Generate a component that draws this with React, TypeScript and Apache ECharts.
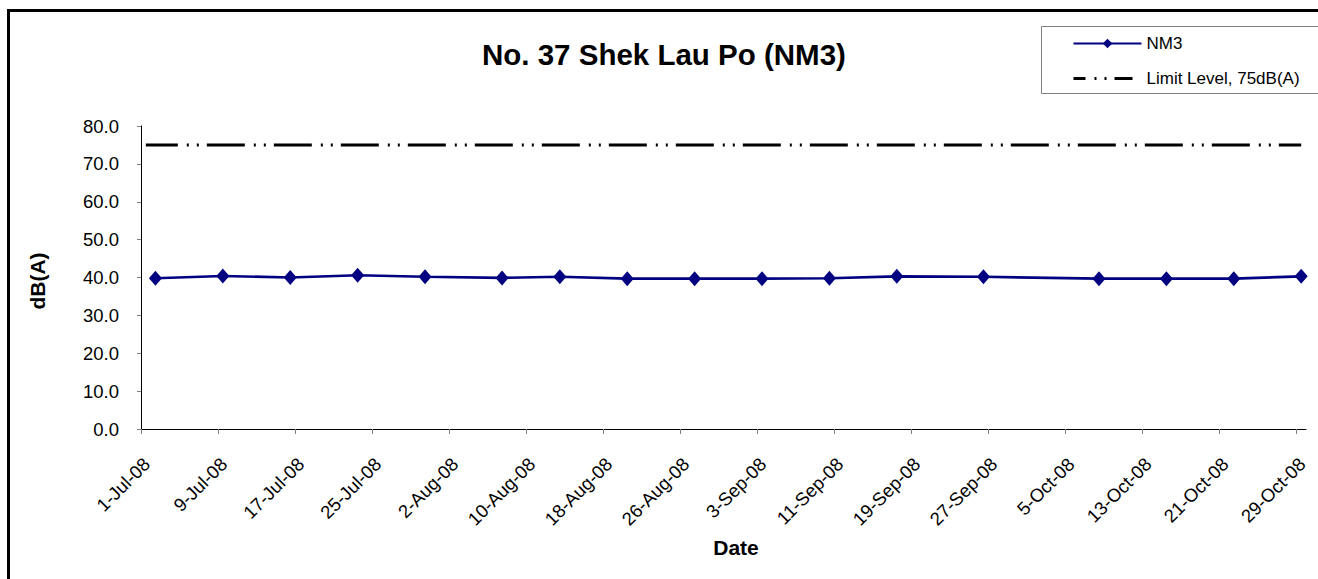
import React, { useEffect, useRef } from "react";
import * as echarts from "echarts";

const DAY = 86400000;
const FONT = 'Arial, "Liberation Sans", sans-serif';

const chartTitle = "No. 37 Shek Lau Po (NM3)";
const yAxisTitle = "dB(A)";
const xAxisTitle = "Date";
const seriesNames = ["NM3", "Limit Level, 75dB(A)"];

const measureDates = [
  "2008-07-02", "2008-07-09", "2008-07-16", "2008-07-23", "2008-07-30",
  "2008-08-07", "2008-08-13", "2008-08-20", "2008-08-27", "2008-09-03",
  "2008-09-10", "2008-09-17", "2008-09-26", "2008-10-08", "2008-10-15",
  "2008-10-22", "2008-10-29",
];
const nm3Values = [
  39.8, 40.4, 40.0, 40.6, 40.2, 39.9, 40.2, 39.7, 39.7, 39.7, 39.8, 40.3,
  40.2, 39.7, 39.7, 39.7, 40.3,
];
const limitDates = ["2008-07-01", "2008-10-29"];
const limitValues = [75, 75];

const xTickLabels = [
  "1-Jul-08", "9-Jul-08", "17-Jul-08", "25-Jul-08", "2-Aug-08", "10-Aug-08",
  "18-Aug-08", "26-Aug-08", "3-Sep-08", "11-Sep-08", "19-Sep-08", "27-Sep-08",
  "5-Oct-08", "13-Oct-08", "21-Oct-08", "29-Oct-08",
];
const axisStartDate = "2008-07-01";
const axisEndDate = "2008-10-30";
const yMin = 0;
const yMax = 80;
const yStep = 10;

const MONTHS = ["Jan", "Feb", "Mar", "Apr", "May", "Jun", "Jul", "Aug", "Sep", "Oct", "Nov", "Dec"];

function isoToTs(s: string): number {
  const [y, m, d] = s.split("-").map(Number);
  return Date.UTC(y, m - 1, d);
}
function labelToTs(s: string): number {
  const [d, mon, yy] = s.split("-");
  return Date.UTC(2000 + Number(yy), MONTHS.indexOf(mon), Number(d));
}

export default function App() {
  const ref = useRef<HTMLDivElement>(null);

  useEffect(() => {
    if (!ref.current) return;
    const chart = echarts.init(ref.current, undefined, { renderer: "svg" });

    const xMin = isoToTs(axisStartDate);
    const xMax = isoToTs(axisEndDate);
    const tickTs = xTickLabels.map(labelToTs);
    const labelShift = DAY * 0.6;
    const labelTs = tickTs.map((t) => t + labelShift);

    const nm3Data = measureDates.map((d, i) => [isoToTs(d) + DAY / 2, nm3Values[i]]);
    const limitData = limitDates.map((d, i) => [isoToTs(d) + DAY / 2, limitValues[i]]);

    const option: any = {
      animation: false,
      backgroundColor: "#ffffff",
      textStyle: { fontFamily: FONT },
      title: {
        text: chartTitle,
        left: 482,
        top: 39,
        padding: 0,
        textStyle: { fontFamily: FONT, fontSize: 29.5, fontWeight: "bold", color: "#000" },
      },
      legend: {
        orient: "vertical",
        left: 1072,
        top: 35,
        padding: 0,
        itemWidth: 68,
        itemHeight: 12,
        itemGap: 18,
        textStyle: { fontFamily: FONT, fontSize: 17, color: "#000" },
        data: [
          { name: seriesNames[0] },
          {
            name: seriesNames[1],
            lineStyle: { type: [18, 9, 2, 8, 2, 8], width: 3, color: "#000" },
            itemStyle: { color: "rgba(0,0,0,0)", borderWidth: 0, opacity: 0 },
          },
        ],
      },
      grid: { left: 141, right: 12, top: 126, bottom: 150, containLabel: false },
      xAxis: {
        type: "value",
        min: xMin,
        max: xMax,
        axisLine: { lineStyle: { color: "#000", width: 1 } },
        axisTick: {
          show: true,
          length: 5,
          lineStyle: { color: "#808080" },
          customValues: tickTs,
        },
        axisLabel: {
          customValues: labelTs,
          rotate: 45,
          margin: 32,
          fontFamily: FONT,
          fontSize: 18.5,
          color: "#000",
          formatter: (v: number) => {
            const idx = Math.round((v - labelShift - xMin) / (8 * DAY));
            return xTickLabels[idx] ?? "";
          },
        },
        splitLine: { show: false },
      },
      yAxis: {
        type: "value",
        min: yMin,
        max: yMax,
        interval: yStep,
        axisLine: { show: true, lineStyle: { color: "#000", width: 1 } },
        axisTick: { show: true, length: 4, lineStyle: { color: "#808080" } },
        axisLabel: {
          margin: 22,
          fontFamily: FONT,
          fontSize: 18.5,
          color: "#000",
          formatter: (v: number) => v.toFixed(1),
        },
        splitLine: { show: false },
      },
      graphic: [
        {
          type: "rect",
          shape: { x: 8.5, y: 10.5, width: 1400, height: 700 },
          style: { fill: "none", stroke: "#000", lineWidth: 3 },
          silent: true,
          z: 0,
        },
        {
          type: "rect",
          shape: { x: 1041.5, y: 26.5, width: 320, height: 67 },
          style: { fill: "none", stroke: "#7f7f7f", lineWidth: 1 },
          silent: true,
          z: 0,
        },
        {
          type: "text",
          x: 37,
          y: 281,
          rotation: Math.PI / 2,
          style: {
            text: yAxisTitle,
            fontFamily: FONT,
            fontSize: 21,
            fontWeight: "bold",
            fill: "#000",
            align: "center",
            verticalAlign: "middle",
          },
        },
        {
          type: "text",
          x: 736,
          y: 547,
          style: {
            text: xAxisTitle,
            fontFamily: FONT,
            fontSize: 21,
            fontWeight: "bold",
            fill: "#000",
            align: "center",
            verticalAlign: "middle",
          },
        },
      ],
      series: [
        {
          name: seriesNames[1],
          type: "line",
          data: limitData,
          symbol: "none",
          lineStyle: { color: "#000", width: 3, type: [38, 9, 2, 8, 2, 8], dashOffset: 6 },
          itemStyle: { color: "#000" },
          z: 2,
        },
        {
          name: seriesNames[0],
          type: "line",
          data: nm3Data,
          symbol: "diamond",
          symbolSize: [13, 15],
          lineStyle: { color: "#000080", width: 2.7 },
          itemStyle: { color: "#000080" },
          z: 3,
        },
      ],
    };

    chart.setOption(option);
    return () => chart.dispose();
  }, []);

  return (
    <div
      ref={ref}
      style={{ position: "absolute", left: 0, top: 0, width: 1318, height: 579, background: "#fff" }}
    />
  );
}
